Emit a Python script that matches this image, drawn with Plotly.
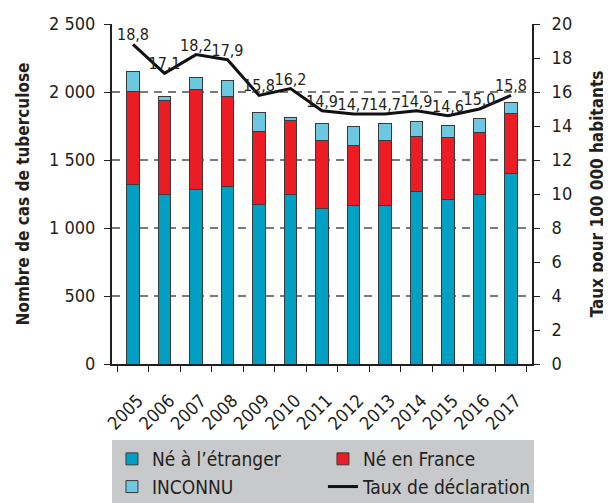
import plotly.graph_objects as go

years = ["2005", "2006", "2007", "2008", "2009", "2010", "2011", "2012", "2013", "2014", "2015", "2016", "2017"]
ne_etranger = [1321, 1250, 1284, 1304, 1171, 1250, 1145, 1167, 1167, 1267, 1206, 1243, 1402]
ne_france = [686, 691, 738, 664, 542, 537, 495, 438, 473, 407, 463, 458, 438]
inconnu = [147, 27, 86, 113, 135, 24, 130, 140, 125, 110, 88, 103, 82]
taux = [18.8, 17.1, 18.2, 17.9, 15.8, 16.2, 14.9, 14.7, 14.7, 14.9, 14.6, 15.0, 15.8]
taux_labels = [f"{v:.1f}".replace(".", ",") for v in taux]

FONT = "Liberation Sans Narrow, Arial Narrow, DejaVu Sans Condensed, sans-serif"
TXT = "#231f20"

fig = go.Figure()
bar_line = dict(color="#3a3a3a", width=1)
fig.add_trace(go.Bar(x=years, y=ne_etranger, name="Né à l’étranger", legendgroup="a", legendrank=1,
                     marker=dict(color="#009fc4", line=bar_line), width=0.41))
fig.add_trace(go.Bar(x=years, y=ne_france, name="Né en France", legendgroup="b", legendrank=3,
                     marker=dict(color="#ec1c24", line=bar_line), width=0.41))
fig.add_trace(go.Bar(x=years, y=inconnu, name="INCONNU", legendgroup="a", legendrank=2,
                     marker=dict(color="#6cc8e0", line=bar_line), width=0.41))
fig.add_trace(go.Scatter(x=years, y=taux, name="Taux de déclaration", yaxis="y2",
                         legendgroup="b", legendrank=4,
                         mode="lines+text", text=taux_labels, textposition="top center",
                         textfont=dict(size=16, color=TXT, family=FONT),
                         line=dict(color="#111111", width=3), cliponaxis=False))

fig.update_layout(
    width=611, height=503,
    margin=dict(l=104, r=87, t=16, b=147, autoexpand=False),
    barmode="stack",
    bargap=0.59,
    separators=", ",
    plot_bgcolor="white",
    paper_bgcolor="white",
    font=dict(family=FONT, color=TXT, size=17),
    xaxis=dict(
        type="category",
        tickangle=-45,
        automargin=False,
        ticks="outside", ticklen=6, tickcolor="#231f20", tickwidth=1,
        tickson="boundaries",
        ticklabelstandoff=17, ticklabelshift=5,
        showline=True, linecolor="#231f20", linewidth=2,
        showgrid=False,
        tickfont=dict(size=18, family=FONT, color=TXT),
    ),
    yaxis=dict(
        range=[0, 2500],
        automargin=False,
        tickvals=[0, 500, 1000, 1500, 2000, 2500],
        separatethousands=True,
        ticks="outside", ticklen=6, tickcolor="#231f20",
        ticklabelstandoff=5,
        showline=True, linecolor="#231f20", linewidth=2,
        showgrid=True, gridcolor="#7a7a7a", gridwidth=1.5, griddash="8px,6px",
        zeroline=False,
        tickfont=dict(size=18, family=FONT, color=TXT),
        title=dict(text="<b>Nombre de cas de tuberculose</b>", font=dict(size=17, family=FONT, color=TXT), standoff=15),
    ),
    yaxis2=dict(
        overlaying="y", side="right",
        range=[0, 20],
        automargin=False,
        tickvals=list(range(0, 21, 2)),
        ticks="outside", ticklen=6, tickcolor="#231f20",
        ticklabelstandoff=8,
        showline=True, linecolor="#231f20", linewidth=2,
        showgrid=False, zeroline=False,
        tickfont=dict(size=18, family=FONT, color=TXT),
        title=dict(text="<b>Taux pour 100 000 habitants</b>", font=dict(size=17, family=FONT, color=TXT), standoff=20),
    ),
    legend=dict(
        orientation="h",
        xref="paper", x=-0.0001, xanchor="left",
        yref="paper", y=(356 - 432) / 340, yanchor="top",
        bgcolor="#c8c9cb",
        borderwidth=0,
        traceorder="grouped",
        tracegroupgap=30,
        entrywidth=166,
        font=dict(size=19, family=FONT, color=TXT),
    ),
)

fig.write_html("out.html")
